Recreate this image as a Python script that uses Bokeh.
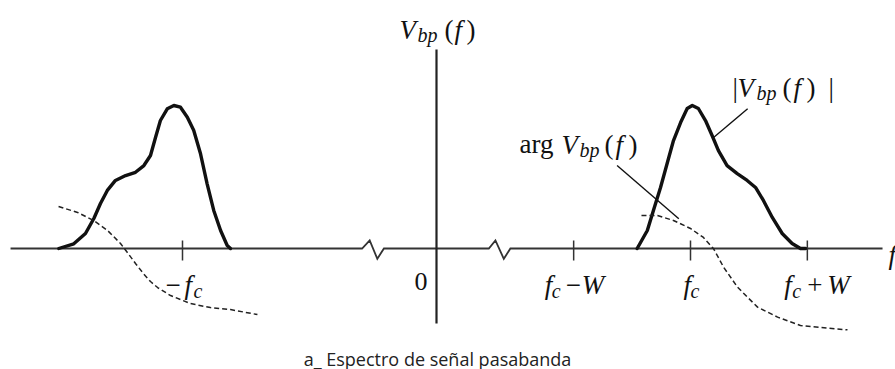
from bokeh.plotting import figure
from bokeh.models import Range1d, Label
from bokeh.embed import file_html
from bokeh.resources import INLINE

# Frequency is in units of the carrier fc, amplitude normalised to the peak of |Vbp(f)|.
FC = 1.0
W = 0.46
tick_freqs = [-FC, FC - W, FC, FC + W]

# |Vbp(f)| around +fc
mag_pos_f = [0.790, 0.830, 0.854, 0.882, 0.908, 0.933, 0.961, 0.987, 1.007, 1.031,
             1.059, 1.085, 1.110, 1.144, 1.184, 1.223, 1.256, 1.287, 1.322, 1.361,
             1.400, 1.433, 1.453]
mag_pos_v = [0.000, 0.126, 0.266, 0.427, 0.594, 0.755, 0.881, 0.979, 1.000, 0.979,
             0.895, 0.790, 0.685, 0.580, 0.524, 0.476, 0.427, 0.336, 0.217, 0.105,
             0.035, 0.000, 0.000]

# |Vbp(f)| around -fc
mag_neg_f = [-1.487, -1.428, -1.382, -1.349, -1.323, -1.296, -1.264, -1.224, -1.185,
             -1.152, -1.126, -1.106, -1.087, -1.060, -1.034, -1.008, -0.981, -0.956,
             -0.929, -0.903, -0.877, -0.850, -0.824, -0.811]
mag_neg_v = [0.000, 0.033, 0.105, 0.210, 0.315, 0.406, 0.476, 0.510, 0.533, 0.580,
             0.650, 0.778, 0.895, 0.977, 1.000, 0.988, 0.918, 0.827, 0.662, 0.452,
             0.266, 0.126, 0.021, 0.000]

# arg Vbp(f), dashed
phase_pos_f = [0.807, 0.870, 0.933, 1.000, 1.051, 1.091, 1.130, 1.185, 1.224, 1.264,
               1.343, 1.433, 1.618]
phase_pos_v = [0.231, 0.231, 0.196, 0.140, 0.077, -0.002, -0.130, -0.270, -0.340,
               -0.410, -0.480, -0.538, -0.569]
phase_neg_f = [-1.488, -1.413, -1.350, -1.295, -1.244, -1.217, -1.185, -1.154, -1.126,
               -1.098, -1.047, -0.969, -0.890, -0.811, -0.705]
phase_neg_v = [0.294, 0.252, 0.196, 0.126, 0.035, -0.028, -0.105, -0.175, -0.231,
               -0.273, -0.329, -0.385, -0.413, -0.427, -0.462]

# frequency axis with its two break marks
axis_f = [-1.677, -0.293, -0.263, -0.233, -0.207, 0.206, 0.232, 0.265, 0.291, 1.756]
axis_v = [0.0, 0.0, 0.056, -0.072, 0.0, 0.0, 0.056, -0.072, 0.0, 0.0]
vaxis_v = [1.392, -0.524]

# leader lines from the curve names to the curves
lead_mag_f = [1.225, 1.092]
lead_mag_v = [0.977, 0.778]
lead_arg_f = [0.711, 0.954]
lead_arg_v = [0.580, 0.208]

WIDTH, HEIGHT = 895, 369
X0, Y0 = 436, 248          # where the axes cross, in page pixels
SX, SY = 254.0, 143.0      # pixels per unit

p = figure(width=WIDTH, height=HEIGHT, output_backend="svg", toolbar_location=None,
           x_range=Range1d(-X0 / SX, (WIDTH - X0) / SX),
           y_range=Range1d(-(HEIGHT - Y0) / SY, Y0 / SY),
           min_border=0, background_fill_color="white", border_fill_color="white")
p.axis.visible = False
p.grid.visible = False
p.outline_line_color = None

INK = "#111111"
MAIN, SUB = 27, 20

p.line(axis_f, axis_v, line_color="#333333", line_width=1.8, line_join="miter")
p.line([0, 0], vaxis_v, line_color="#222222", line_width=2.2)
p.segment(x0=tick_freqs, y0=[0.056] * 4, x1=tick_freqs, y1=[-0.084] * 4,
          line_color="#333333", line_width=1.5)

p.line(mag_pos_f, mag_pos_v, line_color=INK, line_width=3.4, line_join="round", line_cap="round")
p.line(mag_neg_f, mag_neg_v, line_color=INK, line_width=3.4, line_join="round", line_cap="round")
p.line(phase_pos_f, phase_pos_v, line_color="#222222", line_width=1.5, line_dash="5 3")
p.line(phase_neg_f, phase_neg_v, line_color="#222222", line_width=1.5, line_dash="5 3")

p.line(lead_mag_f, lead_mag_v, line_color=INK, line_width=1.4)
p.line(lead_arg_f, lead_arg_v, line_color=INK, line_width=1.4)


def put(text, px, py, size=MAIN, style="italic", font="Liberation Serif", color=INK):
    """Place a text piece with its left edge at px and its baseline at py (page pixels)."""
    p.add_layout(Label(x=(px - X0) / SX, y=(Y0 - py) / SY, text=text,
                       text_font=font, text_font_size=f"{size}px", text_font_style=style,
                       text_color=color, text_align="left", text_baseline="alphabetic"))


def put_vbp(base, parts):
    """V_bp(f) built from pieces; parts gives the left edge of each piece."""
    xv, xs, xo, xf, xc = parts
    put("V", xv, base)
    put("bp", xs, base + 5, size=SUB)
    put("(", xo, base, style="normal")
    put("f", xf, base)
    put(")", xc, base, style="normal")


# title on the vertical axis
put_vbp(29, (399, 417, 444, 454, 466))

# |Vbp(f)|
put("|", 732, 87, style="normal")
put_vbp(87, (737, 756, 782, 793, 806))
put("|", 828, 87, style="normal")

# arg Vbp(f)
put("arg", 519, 143, style="normal")
put_vbp(144, (561, 579, 604, 615, 628))


# tick labels, offsets measured from each tick
def tick_label(f, pieces, base=284):
    fx = X0 + f * SX
    for text, dx, sub, style in pieces:
        put(text, fx + dx, base + (6 if sub else 0), size=SUB if sub else MAIN, style=style)


tick_label(tick_freqs[0], [("\u2212", -17, False, "normal"), ("f", 2, False, "italic"),
                           ("c", 11, True, "italic")])
tick_label(tick_freqs[1], [("f", -29, False, "italic"), ("c", -22, True, "italic"),
                           ("\u2212", -8, False, "normal"), ("W", 8, False, "italic")])
tick_label(tick_freqs[2], [("f", -7, False, "italic"), ("c", 0, True, "italic")])
tick_label(tick_freqs[3], [("f", -23, False, "italic"), ("c", -15, True, "italic"),
                           ("+", 0, False, "normal"), ("W", 20, False, "italic")])

put("0", 414, 281, size=26, style="normal")
put("f", 888, 254)

p.add_layout(Label(x=(437 - X0) / SX, y=(Y0 - 358) / SY, text="a_ Espectro de señal pasabanda",
                   text_font="Open Sans", text_font_size="18px", text_color="#222222",
                   text_align="center", text_baseline="alphabetic"))

open("out.html", "w").write(file_html(p, INLINE))
